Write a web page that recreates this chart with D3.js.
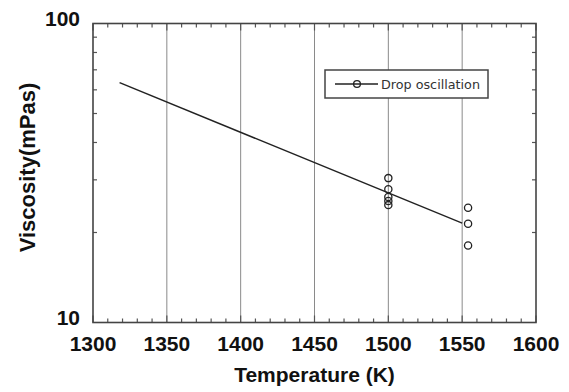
<!DOCTYPE html>
<html><head><meta charset="utf-8">
<script src="https://cdn.jsdelivr.net/npm/d3@7/dist/d3.min.js"></script>
<style>body{margin:0;background:#fff;}svg{display:block;}</style>
</head><body><svg id="c" width="569" height="392"></svg>
<script>
const xTicks = [1300, 1350, 1400, 1450, 1500, 1550, 1600];
const yTicks = [10, 100];
const fitT = [1318, 1550];
const fitV = [63.4, 21.5];
const dropT = [1500, 1500, 1500, 1500, 1500, 1554, 1554, 1554];
const dropV = [30.4, 27.9, 26.3, 25.5, 24.7, 24.2, 21.4, 18.1];
const legendLabel = "Drop oscillation";

const FONT = "'Liberation Sans', Arial, Helvetica, sans-serif";
const svg = d3.select("#c");
const L = 93, R = 536, T = 23.5, B = 322.5;
const x = d3.scaleLinear().domain([1300, 1600]).range([L, R]);
const y = d3.scaleLog().domain([10, 100]).range([B, T]);
const ink = "#222";

// vertical grid
svg.append("g").selectAll("line").data(xTicks.slice(1, -1)).join("line")
  .attr("x1", d => x(d)).attr("x2", d => x(d)).attr("y1", T).attr("y2", B)
  .attr("stroke", "#8a8a8a").attr("stroke-width", 1);

// minor ticks
const xMinor = d3.range(1300, 1601, 10).filter(d => d % 50 !== 0);
const yMinor = d3.range(20, 100, 10);
const tk = svg.append("g").attr("stroke", "#555").attr("stroke-width", 1.2);
xMinor.forEach(d => {
  tk.append("line").attr("x1", x(d)).attr("x2", x(d)).attr("y1", B).attr("y2", B - 4);
  tk.append("line").attr("x1", x(d)).attr("x2", x(d)).attr("y1", T).attr("y2", T + 4);
});
xTicks.forEach(d => {
  tk.append("line").attr("x1", x(d)).attr("x2", x(d)).attr("y1", B).attr("y2", B - 7);
  tk.append("line").attr("x1", x(d)).attr("x2", x(d)).attr("y1", T).attr("y2", T + 7);
});
yMinor.forEach(d => {
  tk.append("line").attr("x1", L).attr("x2", L + 4).attr("y1", y(d)).attr("y2", y(d));
  tk.append("line").attr("x1", R).attr("x2", R - 4).attr("y1", y(d)).attr("y2", y(d));
});

// frame
svg.append("rect").attr("x", L).attr("y", T).attr("width", R - L).attr("height", B - T)
  .attr("fill", "none").attr("stroke", "#444").attr("stroke-width", 1.6);

// tick labels
svg.append("g").selectAll("text").data(xTicks).join("text")
  .attr("x", d => x(d)).attr("y", B + 28).attr("text-anchor", "middle")
  .attr("font-family", FONT).attr("font-weight", "bold")
  .attr("font-size", 21).attr("fill", "#111").text(d => d);
svg.append("g").selectAll("text").data(yTicks).join("text")
  .attr("x", L - 13).attr("y", d => y(d) + 2.5).attr("text-anchor", "end")
  .attr("font-family", FONT).attr("font-weight", "bold")
  .attr("font-size", 21).attr("fill", "#111").text(d => d);

// axis titles
svg.append("text").attr("x", 314.5).attr("y", 382).attr("text-anchor", "middle")
  .attr("font-family", FONT).attr("font-weight", "bold")
  .attr("font-size", 21).attr("fill", "#111").text("Temperature (K)");
svg.append("text").attr("transform", "translate(35,167.5) rotate(-90)")
  .attr("text-anchor", "middle")
  .attr("font-family", FONT).attr("font-weight", "bold")
  .attr("font-size", 22).attr("fill", "#111").text("Viscosity(mPas)");

// fit line
const line = d3.line().x(d => x(d[0])).y(d => y(d[1]));
svg.append("path").datum(fitT.map((t, i) => [t, fitV[i]])).attr("d", line)
  .attr("fill", "none").attr("stroke", ink).attr("stroke-width", 1.5);

// points
svg.append("g").selectAll("circle").data(dropT.map((t, i) => [t, dropV[i]])).join("circle")
  .attr("cx", d => x(d[0])).attr("cy", d => y(d[1])).attr("r", 3.6)
  .attr("fill", "none").attr("stroke", ink).attr("stroke-width", 1.3);

// legend
const lg = svg.append("g");
lg.append("rect").attr("x", 325).attr("y", 70).attr("width", 163).attr("height", 28)
  .attr("fill", "#fff").attr("stroke", "#444").attr("stroke-width", 1.5);
lg.append("line").attr("x1", 335).attr("x2", 378).attr("y1", 84).attr("y2", 84)
  .attr("stroke", ink).attr("stroke-width", 1.4);
lg.append("circle").attr("cx", 357).attr("cy", 84).attr("r", 3.4)
  .attr("fill", "none").attr("stroke", ink).attr("stroke-width", 1.3);
lg.append("text").attr("x", 381).attr("y", 88.5)
  .attr("font-family", "'Liberation Sans Narrow', 'DejaVu Sans Condensed', Arial, sans-serif")
  .attr("font-size", 12).attr("fill", "#333")
  .attr("textLength", 99).attr("lengthAdjust", "spacingAndGlyphs").text(legendLabel);
</script></body></html>
